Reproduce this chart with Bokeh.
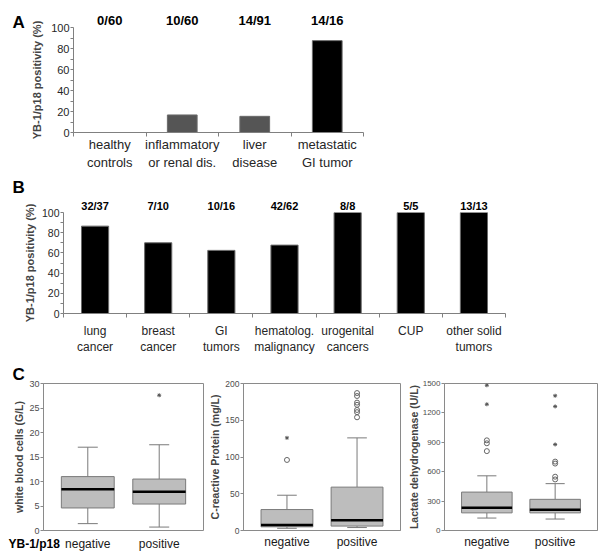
from bokeh.plotting import figure
from bokeh.models import ColumnDataSource, Range1d, FixedTicker, LinearAxis, Title
from bokeh.layouts import column, row
from bokeh.embed import file_html
from bokeh.resources import INLINE
from bokeh.core.properties import value

FONT = "Liberation Sans"

# ---------------- data ----------------
# Panel A
a_categories = ["healthy\ncontrols", "inflammatory\nor renal dis.", "liver\ndisease", "metastatic\nGI tumor"]
a_fractions = ["0/60", "10/60", "14/91", "14/16"]
a_percent = [0.0, 16.7, 15.4, 87.5]
a_colors = ["#555555", "#555555", "#555555", "#000000"]
pct_ticks = [0, 20, 40, 60, 80, 100]
pct_minor = [10, 30, 50, 70, 90]

# Panel B
b_categories = ["lung\ncancer", "breast\ncancer", "GI\ntumors", "hematolog.\nmalignancy",
                "urogenital\ncancers", "CUP", "other solid\ntumors"]
b_fractions = ["32/37", "7/10", "10/16", "42/62", "8/8", "5/5", "13/13"]
b_percent = [86.5, 70.0, 62.5, 67.7, 100.0, 100.0, 100.0]
b_colors = ["#000000"] * 7

# Panel C
c_groups = ["negative", "positive"]

wbc_low = [1.4, 0.7]
wbc_q1 = [4.6, 5.4]
wbc_median = [8.4, 7.9]
wbc_q3 = [11.0, 10.5]
wbc_high = [17.0, 17.5]
wbc_circle_group, wbc_circle = [], []
wbc_star_group, wbc_star = [1], [27.6]
wbc_ticks = [0, 5, 10, 15, 20, 25, 30]

crp_low = [3.0, 4.0]
crp_q1 = [5.0, 6.0]
crp_median = [7.5, 14.0]
crp_q3 = [28.5, 59.0]
crp_high = [48.0, 126.0]
crp_circle_group = [0, 1, 1, 1, 1, 1, 1, 1]
crp_circle = [96.0, 154.0, 161.0, 164.0, 171.0, 174.0, 183.0, 187.0]
crp_star_group, crp_star = [0], [126.0]
crp_ticks = [0, 50, 100, 150, 200]

ldh_low = [127.0, 117.0]
ldh_q1 = [180.0, 180.0]
ldh_median = [233.0, 213.0]
ldh_q3 = [392.0, 318.0]
ldh_high = [558.0, 478.0]
ldh_circle_group = [0, 0, 0, 1, 1, 1, 1]
ldh_circle = [810.0, 890.0, 920.0, 521.0, 549.0, 683.0, 703.0]
ldh_star_group = [0, 0, 1, 1, 1]
ldh_star = [1288.0, 1482.0, 878.0, 1266.0, 1375.0]
ldh_ticks = [0, 300, 600, 900, 1200, 1500]

PANEL_LETTERS = ["A", "B", "C"]
GROUP_TITLE = "YB-1/p18"


def bare(width, height, x_range):
    """A figure without axes or title whose frame is the whole canvas (y in px from top)."""
    f = figure(width=width, height=height, x_range=x_range, y_range=Range1d(height, 0),
               output_backend="svg", toolbar_location=None, title=None,
               x_axis_location=None, y_axis_location=None, min_border=0,
               min_border_left=0, min_border_right=0, min_border_top=0, min_border_bottom=0)
    f.outline_line_color = None
    f.xgrid.visible = False
    f.ygrid.visible = False
    return f


def letter_title(letter, offset):
    return Title(text=letter, align="left", offset=offset, standoff=0, text_font=FONT,
                 text_font_style="bold", text_font_size="17px", text_color="#000000")


def bar_panel(cats, fracs, pct, colors, width, height, borders, bar_w, tick_fs,
              xlab_fs, top_fs, xstand, top_stand, ylab_stand):
    n = len(cats)
    idx = list(range(n))
    p = figure(width=width, height=height, x_range=Range1d(-0.5, n - 0.5),
               y_range=Range1d(0, 100), output_backend="svg", toolbar_location=None,
               title=None,
               min_border_left=borders[0], min_border_right=borders[1],
               min_border_top=borders[2], min_border_bottom=borders[3])
    p.outline_line_color = None
    p.xgrid.grid_line_color = None
    p.ygrid.grid_line_color = None
    src = ColumnDataSource(dict(x=idx, top=pct, color=colors))
    p.vbar(x="x", top="top", bottom=0, width=bar_w, fill_color="color",
           line_color="#6a6a6a", line_width=1, source=src)
    # y axis
    ya = p.left[0]
    ya.ticker = FixedTicker(ticks=pct_ticks, minor_ticks=pct_minor)
    ya.axis_label = "YB-1/p18 positivity (%)"
    ya.axis_label_text_font = FONT
    ya.axis_label_text_font_style = "bold"
    ya.axis_label_text_font_size = "11px"
    ya.axis_label_standoff = ylab_stand
    ya.major_label_text_font = FONT
    ya.major_label_text_font_size = tick_fs
    ya.major_label_text_color = "#262626"
    ya.major_label_standoff = 1
    ya.major_tick_out = 3
    ya.major_tick_in = 0
    ya.minor_tick_out = 3
    ya.minor_tick_in = 0
    ya.axis_line_color = "#808080"
    ya.major_tick_line_color = "#808080"
    ya.minor_tick_line_color = "#808080"
    # category axis below
    xa = p.below[0]
    xa.ticker = FixedTicker(ticks=idx, minor_ticks=[i - 0.5 for i in range(n + 1)])
    xa.major_label_overrides = {i: c for i, c in enumerate(cats)}
    xa.major_label_text_font = FONT
    xa.major_label_text_font_size = xlab_fs
    xa.major_label_text_color = "#262626"
    xa.major_label_standoff = xstand
    xa.major_tick_out = 0
    xa.major_tick_in = 0
    xa.minor_tick_out = 4
    xa.minor_tick_in = 0
    xa.axis_line_color = "#808080"
    xa.minor_tick_line_color = "#808080"
    # fractions above the bars, as an axis above the frame
    ta = LinearAxis(ticker=FixedTicker(ticks=idx, minor_ticks=[]),
                    major_label_overrides={i: f for i, f in enumerate(fracs)},
                    axis_line_color=None, major_tick_line_color=None,
                    minor_tick_line_color=None, major_tick_out=0, major_tick_in=0,
                    minor_tick_out=0, minor_tick_in=0, major_label_standoff=top_stand,
                    major_label_text_font=FONT, major_label_text_font_style="bold",
                    major_label_text_font_size=top_fs, major_label_text_color="#000000")
    p.add_layout(ta, "above")
    return p


# Panel A: letter in a narrow text figure at its left
letA = bare(28, 175, Range1d(0, 28))
letA.text(x=[12], y=[22], text=[PANEL_LETTERS[0]], text_font=value(FONT),
          text_font_style="bold", text_font_size="17px", text_align="left",
          text_baseline="alphabetic", text_color="#000000")
pa = bar_panel(a_categories, a_fractions, a_percent, a_colors, 572, 175, (42, 237, 27, 43),
               0.41, "11px", "13px", "13px", 0, 0, 5)

# Panel B: letter as the plot title
pb = bar_panel(b_categories, b_fractions, b_percent, b_colors, 600, 185, (63, 95, 35, 47),
               0.43, "10.5px", "12px", "11px", 6, 1, 3)
pb.title = letter_title(PANEL_LETTERS[1], -51)

C_XR = (-0.62, 1.62)


def box_panel(width, height, borders, ymax, yticks, ylabel, tick_fs, low, q1, med, q3, high,
              cg, cv, sg, sv, lab_stand, with_xaxis):
    p = figure(width=width, height=height, x_range=Range1d(*C_XR),
               y_range=Range1d(0, ymax), output_backend="svg", toolbar_location=None,
               title=None, x_axis_location="below" if with_xaxis else None,
               min_border_left=borders[0], min_border_right=borders[1],
               min_border_top=borders[2], min_border_bottom=borders[3])
    p.outline_line_color = "#8a8a8a"
    p.xgrid.visible = False
    p.ygrid.visible = False
    gi = list(range(len(c_groups)))
    bw, cw = 0.74, 0.28
    src = ColumnDataSource(dict(x=gi, low=low, q1=q1, med=med, q3=q3, high=high,
                                l=[i - bw / 2 for i in gi], r=[i + bw / 2 for i in gi],
                                cl=[i - cw / 2 for i in gi], cr=[i + cw / 2 for i in gi]))
    wc = "#7a7a7a"
    p.segment(x0="x", y0="q3", x1="x", y1="high", line_color=wc, line_width=1, source=src)
    p.segment(x0="x", y0="low", x1="x", y1="q1", line_color=wc, line_width=1, source=src)
    p.segment(x0="cl", y0="high", x1="cr", y1="high", line_color=wc, line_width=1, source=src)
    p.segment(x0="cl", y0="low", x1="cr", y1="low", line_color=wc, line_width=1, source=src)
    p.vbar(x="x", bottom="q1", top="q3", width=bw, fill_color="#bdbdbd",
           line_color=wc, line_width=1, source=src)
    p.segment(x0="l", y0="med", x1="r", y1="med", line_color="#000000", line_width=2.5,
              source=src)
    if cv:
        p.scatter(x=cg, y=cv, marker="circle", size=5, fill_color=None,
                  line_color="#666666", line_width=1)
    if sv:
        p.scatter(x=sg, y=sv, marker="asterisk", size=4, line_color="#555555",
                  line_width=1)
    ya = p.left[0]
    ya.ticker = FixedTicker(ticks=yticks)
    ya.axis_label = ylabel
    ya.axis_label_text_font = FONT
    ya.axis_label_text_font_style = "bold"
    ya.axis_label_text_font_size = "10.5px"
    ya.axis_label_standoff = lab_stand
    ya.major_label_text_font = FONT
    ya.major_label_text_font_size = tick_fs
    ya.major_label_text_color = "#4d4d4d"
    ya.major_label_standoff = 1
    ya.major_tick_out = 3
    ya.major_tick_in = 0
    ya.minor_tick_line_color = None
    ya.axis_line_color = "#8a8a8a"
    ya.major_tick_line_color = "#8a8a8a"
    if with_xaxis:
        xa = p.below[0]
        xa.ticker = FixedTicker(ticks=gi, minor_ticks=[])
        xa.major_label_overrides = {i: g for i, g in enumerate(c_groups)}
        xa.major_label_text_font = FONT
        xa.major_label_text_font_size = "12px"
        xa.major_label_text_color = "#1a1a1a"
        xa.major_label_standoff = 4
        xa.major_tick_out = 0
        xa.major_tick_in = 0
        xa.minor_tick_line_color = None
        xa.axis_line_color = "#8a8a8a"
    return p


# C1: plot part (with the panel letter as title) + a text strip below with its group labels
C1_W, C1_BORDERS = 206, (43, 3, 23, 5)
c1 = box_panel(C1_W, 175, C1_BORDERS, 30, wbc_ticks, "white blood cells (G/L)", "9px",
               wbc_low, wbc_q1, wbc_median, wbc_q3, wbc_high,
               wbc_circle_group, wbc_circle, wbc_star_group, wbc_star, 1, False)
c1.title = letter_title(PANEL_LETTERS[2], -31)
c1_frame_w = C1_W - C1_BORDERS[0] - C1_BORDERS[1]
c1_scale = c1_frame_w / (C_XR[1] - C_XR[0])
c1_strip_xr = Range1d(C_XR[0] - C1_BORDERS[0] / c1_scale, C_XR[1] + C1_BORDERS[1] / c1_scale)
c1_strip = bare(C1_W, 23, c1_strip_xr)
c1_strip.text(x=list(range(len(c_groups))), y=[8] * len(c_groups), text=c_groups,
              text_font=value(FONT), text_font_size="12px", text_align="center",
              text_baseline="middle", text_color="#1a1a1a")
c1_strip.text(x=[c1_strip_xr.start + 8 / c1_scale], y=[8], text=[GROUP_TITLE],
              text_font=value(FONT), text_font_style="bold", text_font_size="12px",
              text_align="left", text_baseline="middle", text_color="#000000")

c2 = box_panel(198, 198, (34, 4, 23, 28), 200, crp_ticks, "C-reactive Protein (mg/L)", "8.5px",
               crp_low, crp_q1, crp_median, crp_q3, crp_high,
               crp_circle_group, crp_circle, crp_star_group, crp_star, 1, True)
c3 = box_panel(196, 198, (35, 3, 23, 28), 1500, ldh_ticks, "Lactate dehydrogenase (U/L)", "8px",
               ldh_low, ldh_q1, ldh_median, ldh_q3, ldh_high,
               ldh_circle_group, ldh_circle, ldh_star_group, ldh_star, 0, True)

layout = column(
    row(column(letA), pa),
    row(pb),
    row(column(c1, row(c1_strip)), c2, c3),
)
open("out.html", "w").write(file_html(layout, INLINE))
